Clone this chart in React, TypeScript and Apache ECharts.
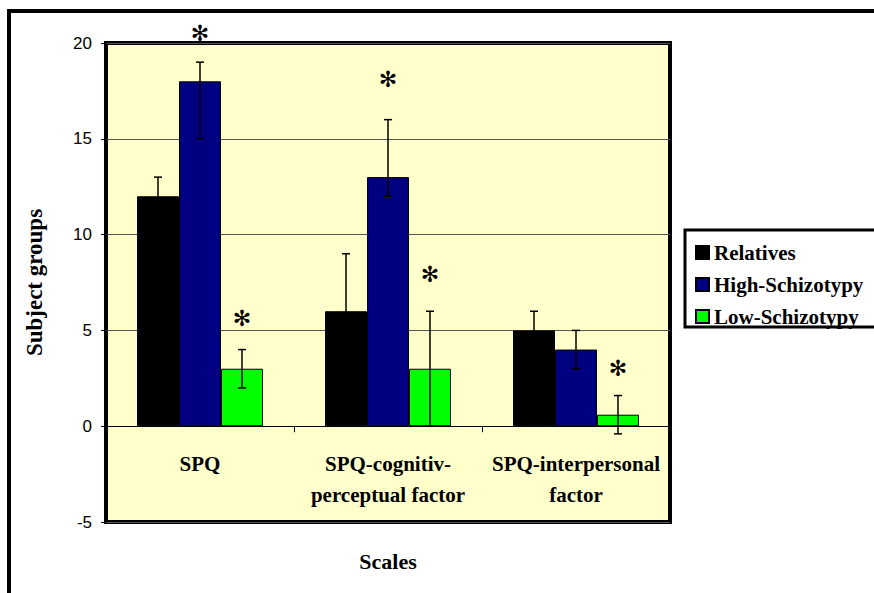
import React, { useEffect, useRef } from "react";
import * as echarts from "echarts";

const categories = ["SPQ", "SPQ-cognitiv-\nperceptual factor", "SPQ-interpersonal\nfactor"];
const seriesNames = ["Relatives", "High-Schizotypy", "Low-Schizotypy"];
const relatives = [12, 6, 5];
const highSchizotypy = [18, 13, 4];
const lowSchizotypy = [3, 3, 0.6];
// error bar ranges [low, high]
const relativesErr = [[11, 13], [3, 9], [4, 6]];
const highErr = [[15, 19], [12, 16], [3, 5]];
const lowErr = [[2, 4], [0, 6], [-0.4, 1.6]];
// significance markers: [categoryIndex, seriesIndex, y]
const asterisks = [[0, 1, 20.5], [0, 2, 5.6], [1, 1, 18.1], [1, 2, 7.9], [2, 2, 3.0]];
const yTicks = { min: -5, max: 20, interval: 5 };

const colors = ["#000000", "#000080", "#00FF00"];
const GAP = 0.33;
const serif = "Liberation Serif";
const sans = "Liberation Sans";

function offsetX(api: any, cat: number, s: number) {
  const band = api.size([1, 0])[0];
  const barW = (band * (1 - GAP)) / 3;
  return api.coord([cat, 0])[0] + (s - 1) * barW;
}

export default function App() {
  const ref = useRef<HTMLDivElement>(null);
  useEffect(() => {
    if (!ref.current) return;
    const chart = echarts.init(ref.current, undefined, { renderer: "svg" });
    const values = [relatives, highSchizotypy, lowSchizotypy];
    const errs = [relativesErr, highErr, lowErr];
    const errData: number[][] = [];
    errs.forEach((arr, s) => arr.forEach((e, c) => errData.push([c, e[0], e[1], s])));

    const barSeries = seriesNames.map((name, i) => ({
      name,
      type: "bar",
      data: values[i],
      barGap: "0%",
      barCategoryGap: "33%",
      itemStyle: { color: colors[i], borderColor: "#000", borderWidth: 1 },
      z: 2,
    }));

    chart.setOption({
      animation: false,
      backgroundColor: "#fff",
      grid: {
        left: 106,
        right: 204,
        top: 43,
        bottom: 71,
        outerBoundsMode: "none",
        containLabel: false,
        show: true,
        backgroundColor: "#FFFFCC",
        borderColor: "#000",
        borderWidth: 4,
        z: 0,
      },
      legend: {
        data: seriesNames,
        orient: "vertical",
        left: 695,
        top: 242,
        padding: 0,
        itemGap: 11,
        itemWidth: 13,
        itemHeight: 13,
        icon: "rect",
        textStyle: { fontFamily: serif, fontWeight: "bold", fontSize: 21, color: "#000", lineHeight: 20 },
      },
      xAxis: {
        type: "category",
        data: categories,
        axisLine: { onZero: true, lineStyle: { color: "#000", width: 1 } },
        axisTick: { show: true, inside: false, length: 6, lineStyle: { color: "#000" } },
        axisLabel: {
          fontFamily: serif,
          fontWeight: "bold",
          fontSize: 21,
          color: "#000",
          lineHeight: 31,
          margin: -74,
          interval: 0,
        },
      },
      yAxis: {
        type: "value",
        min: yTicks.min,
        max: yTicks.max,
        interval: yTicks.interval,
        name: "Subject groups",
        nameLocation: "middle",
        nameRotate: 90,
        nameGap: 60,
        nameTextStyle: { fontFamily: serif, fontWeight: "bold", fontSize: 23, color: "#000" },
        axisLine: { show: true, lineStyle: { color: "#000", width: 1 } },
        axisTick: { show: true, length: 5, lineStyle: { color: "#000" } },
        axisLabel: { fontFamily: sans, fontSize: 17, color: "#000", margin: 14 },
        splitLine: { show: true, lineStyle: { color: "#555", width: 1 } },
      },
      graphic: [
        {
          type: "rect",
          shape: { x: 9, y: 11, width: 1000, height: 800 },
          style: { fill: "none", stroke: "#000", lineWidth: 4 },
          z: -1,
          silent: true,
        },
        {
          type: "rect",
          shape: { x: 685, y: 230, width: 300, height: 97 },
          style: { fill: "#fff", stroke: "#000", lineWidth: 3 },
          z: -1,
          silent: true,
        },
        {
          type: "text",
          x: 388,
          y: 561,
          style: {
            text: "Scales",
            fontFamily: serif,
            fontWeight: "bold",
            fontSize: 22,
            fill: "#000",
            align: "center",
            verticalAlign: "middle",
          },
        },
      ],
      series: [
        ...barSeries,
        {
          name: "errors",
          type: "custom",
          data: errData,
          clip: false,
          z: 5,
          renderItem: (params: any, api: any) => {
            const c = api.value(0);
            const s = api.value(3);
            const x = offsetX(api, c, s);
            const yl = api.coord([c, api.value(1)])[1];
            const yh = api.coord([c, api.value(2)])[1];
            const cap = 4;
            const style = { stroke: "#000", lineWidth: 1.5 };
            return {
              type: "group",
              children: [
                { type: "line", shape: { x1: x, y1: yl, x2: x, y2: yh }, style },
                { type: "line", shape: { x1: x - cap, y1: yh, x2: x + cap, y2: yh }, style },
                { type: "line", shape: { x1: x - cap, y1: yl, x2: x + cap, y2: yl }, style },
              ],
            };
          },
        },
        {
          name: "asterisks",
          type: "custom",
          data: asterisks,
          clip: false,
          z: 6,
          renderItem: (params: any, api: any) => {
            const c = api.value(0);
            const s = api.value(1);
            const x = offsetX(api, c, s);
            const y = api.coord([c, api.value(2)])[1];
            return {
              type: "text",
              x,
              y,
              style: {
                text: "\u273B",
                fontSize: 22,
                fontFamily: "DejaVu Sans",
                fontWeight: "bold",
                fill: "#000",
                align: "center",
                verticalAlign: "middle",
              },
            };
          },
        },
      ],
    });
    return () => chart.dispose();
  }, []);
  return (
    <div
      ref={ref}
      style={{ position: "fixed", left: 0, top: 0, width: 874, height: 593, background: "#fff" }}
    />
  );
}
